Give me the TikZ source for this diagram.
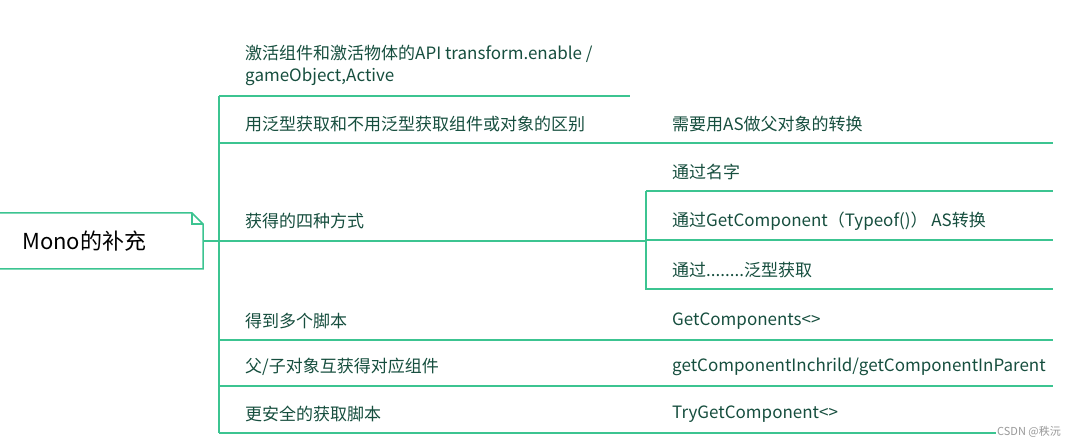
\documentclass[tikz,border=0pt]{standalone}
\usepackage{fontspec}
\setmainfont{Noto Sans CJK SC}
\usetikzlibrary{positioning}
\definecolor{mapline}{RGB}{60,196,145}
\definecolor{maptext}{RGB}{22,78,62}
\tikzset{
  branch/.style = {draw = mapline, line width = 1.5pt},
  item/.style = {maptext, anchor = west, inner sep = 0pt, font = \fontsize{17}{22}\selectfont},
  rootlabel/.style = {black, anchor = west, inner sep = 0pt, font = \fontsize{22}{26}\selectfont},
  wmark/.style = {black!40!white, fill = white, inner sep = 1pt, font = \fontsize{11}{13}\selectfont}
}
\begin{document}
\begin{tikzpicture}[x=1pt,y=-1pt]
  \useasboundingbox (0,0) rectangle (1076,446);
  % root
  \draw[branch, fill=white] (-2,213) -- (192,213) -- (203,224) -- (203,269) -- (-2,269);
  \draw[branch] (192,213) -- (192,224) -- (203,224);
  \node[rootlabel] (mono) at (22,241) {Mono的补充};
  \coordinate (monoR) at (203,241);
  % trunk
  \coordinate (trunkT) at (219,96);
  \coordinate (trunkB) at (219,433);
  \draw[branch] (trunkT) -- (trunkB);
  % api
  \node[item, align=left] (api) at (245,65) {激活组件和激活物体的API transform.enable /\\gameObject,Active};
  \coordinate (apiR) at (630,96);
  \draw[branch] (trunkT) -- (apiR);
  % items with one child
  \foreach \n/\yi/\m/\s in {fanxing/124/用泛型获取和不用泛型获取组件或对象的区别/需要用AS做父对象的转换,
      duoge/321/得到多个脚本/GetComponents<>,
      fuzi/367/{父/子对象互获得对应组件}/{getComponentInchrild/getComponentInParent},
      anquan/414/更安全的获取脚本/TryGetComponent<>}{
    \node[item] (\n) at (245,\yi) {\m};
    \node[item] (\n-sub) at (672,\yi) {\s};
    \coordinate (\n-L) at (219,\yi+19);
    \coordinate (\n-R) at (1053,\yi+19);
    \draw[branch] (\n-L) -- (\n-R);
  }
  % four ways
  \node[item] (sizhong) at (245,221) {获得的四种方式};
  \coordinate (fork) at (646,241);
  \coordinate (forkT) at (646,191);
  \coordinate (forkB) at (646,290);
  \draw[branch] (monoR) -- (fork);
  \draw[branch] (forkT) -- (forkB);
  \foreach \n/\yi/\m in {mingzi/172/{通过名字},
      typeof/221/{通过GetComponent（Typeof()） AS转换},
      fanxingHQ/270/{通过.{}.{}.{}.{}.{}.{}.{}.泛型获取}}{
    \node[item] (\n) at (672,\yi) {\m};
    \coordinate (\n-L) at (646,\yi+19);
    \coordinate (\n-R) at (1053,\yi+19);
    \draw[branch] (\n-L) -- (\n-R);
  }
  \node[wmark, anchor=east] (csdn) at (1062,432) {CSDN @秩沅};
\end{tikzpicture}
\end{document}
